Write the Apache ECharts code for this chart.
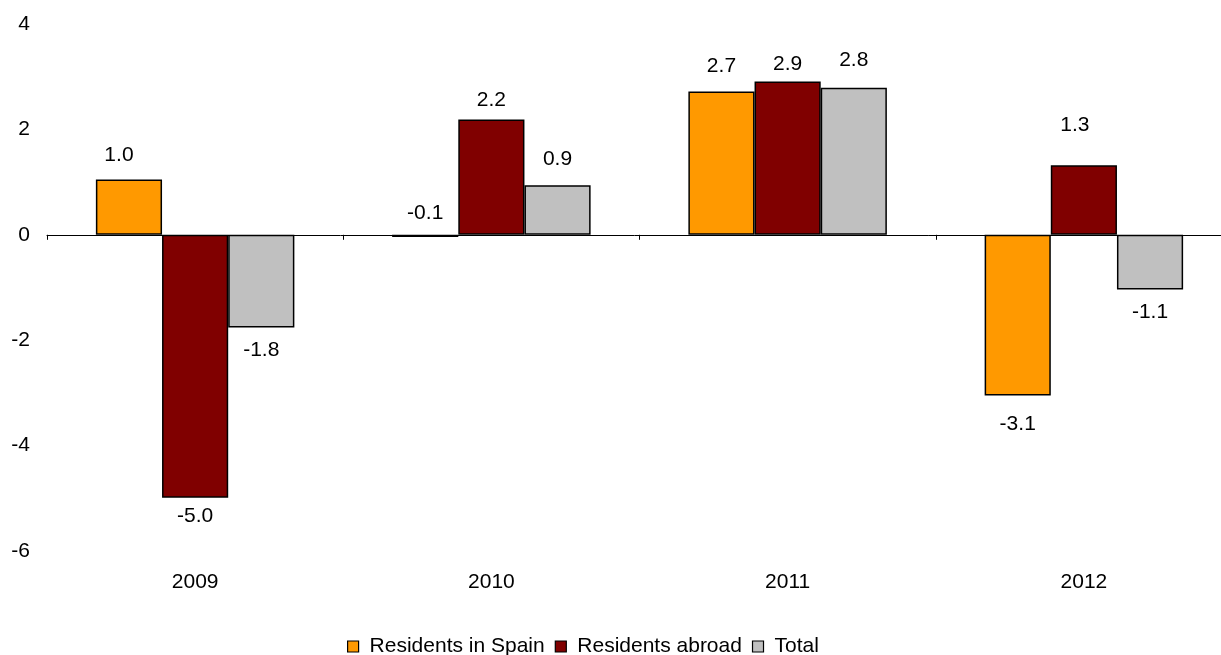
<!DOCTYPE html>
<html>
<head>
<meta charset="utf-8">
<script src="https://cdn.jsdelivr.net/npm/echarts@6/dist/echarts.min.js"></script>
<style>
html,body{margin:0;padding:0;background:#fff;}
#chart{width:1221px;height:655px;}
</style>
</head>
<body>
<div id="chart"></div>
<script>
var categories = ['2009', '2010', '2011', '2012'];
var seriesNames = ['Residents in Spain', 'Residents abroad', 'Total'];
var residentsSpain = [1.05, -0.04, 2.72, -3.05];
var residentsAbroad = [-4.99, 2.19, 2.91, 1.32];
var total = [-1.76, 0.94, 2.79, -1.04];
var labelsSpain = ['1.0', '-0.1', '2.7', '-3.1'];
var labelsAbroad = ['-5.0', '2.2', '2.9', '1.3'];
var labelsTotal = ['-1.8', '0.9', '2.8', '-1.1'];
var yTicks = [-6, -4, -2, 0, 2, 4];

// label placement (layout only): [position, distance, dx]
var placeSpain = [['top', 14, -10], ['top', 11, 0], ['top', 15, 0], ['bottom', 18, 0]];
var placeAbroad = [['bottom', 8, 0], ['top', 9, 0], ['top', 7, 0], ['top', 30, -9]];
var placeTotal = [['bottom', 12, 0], ['top', 16, 0], ['top', 17, 0], ['bottom', 12, 0]];

var colors = ['#FF9900', '#800000', '#C0C0C0'];
var FONT = 'Liberation Sans, Arial, sans-serif';
var FS = 21;

function buildData(values, labels, place) {
  return values.map(function (v, i) {
    return {
      value: v,
      label: {
        show: true,
        position: place[i][0],
        distance: place[i][1],
        offset: [place[i][2], 0],
        formatter: labels[i],
        color: '#000',
        fontSize: FS,
        fontFamily: FONT
      }
    };
  });
}

var allValues = [residentsSpain, residentsAbroad, total];
var allLabels = [labelsSpain, labelsAbroad, labelsTotal];
var allPlace = [placeSpain, placeAbroad, placeTotal];

var series = seriesNames.map(function (name, k) {
  return {
    name: name,
    type: 'bar',
    xAxisIndex: 0,
    barGap: '0%',
    barCategoryGap: '33%',
    itemStyle: { color: colors[k], borderColor: '#000', borderWidth: 1.5 },
    emphasis: { disabled: true },
    data: buildData(allValues[k], allLabels[k], allPlace[k])
  };
});

var chart = echarts.init(document.getElementById('chart'), null, { renderer: 'canvas' });
chart.setOption({
  animation: false,
  backgroundColor: '#fff',
  grid: { left: 47, width: 1185, top: 24, height: 527, containLabel: false, outerBoundsMode: 'none' },
  legend: {
    data: seriesNames,
    left: 347,
    top: 636,
    padding: 0,
    icon: 'rect',
    itemWidth: 11,
    itemHeight: 11,
    itemGap: 10,
    itemStyle: { borderColor: '#000', borderWidth: 1.2 },
    textStyle: { fontSize: FS, fontFamily: FONT, color: '#000', padding: [0, 0, 0, 6] }
  },
  xAxis: [
    {
      type: 'category',
      data: categories,
      position: 'bottom',
      axisLine: { show: false, onZero: false },
      axisTick: { show: false },
      axisLabel: { color: '#000', fontSize: FS, fontFamily: FONT, margin: 21 },
      splitLine: { show: false }
    },
    {
      type: 'category',
      data: categories,
      position: 'bottom',
      axisLine: { show: true, onZero: true, lineStyle: { color: '#000', width: 1 } },
      axisTick: { show: true, length: 5, lineStyle: { color: '#000', width: 1 } },
      axisLabel: { show: false },
      splitLine: { show: false }
    }
  ],
  yAxis: {
    type: 'value',
    min: yTicks[0],
    max: yTicks[yTicks.length - 1],
    interval: 2,
    axisLine: { show: false },
    axisTick: { show: false },
    splitLine: { show: false },
    axisLabel: { color: '#000', fontSize: FS, fontFamily: FONT, margin: 17 }
  },
  series: series
});
</script>
</body>
</html>
